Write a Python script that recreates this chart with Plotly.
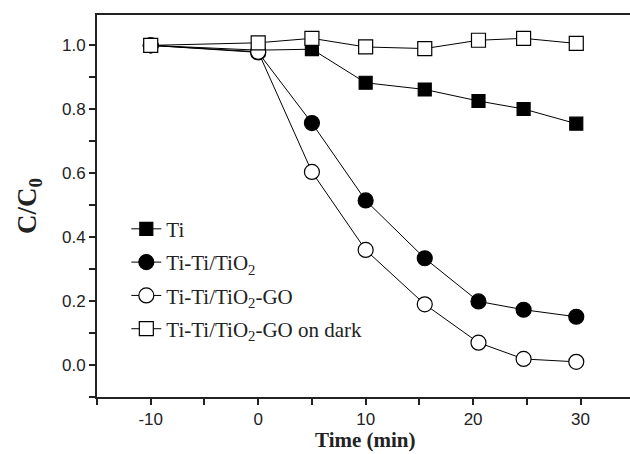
import plotly.graph_objects as go

time_pts = [-10, 0, 5, 10, 15.5, 20.5, 24.7, 29.6]
ti = [1.0, 0.985, 0.988, 0.883, 0.862, 0.826, 0.801, 0.755]
ti_tio2 = [1.0, 0.978, 0.757, 0.515, 0.334, 0.199, 0.173, 0.151]
ti_tio2_go = [1.0, 0.98, 0.604, 0.360, 0.190, 0.070, 0.019, 0.010]
ti_tio2_go_dark = [1.0, 1.008, 1.022, 0.995, 0.990, 1.016, 1.022, 1.006]

names = ["Ti", "Ti-Ti/TiO<sub>2</sub>", "Ti-Ti/TiO<sub>2</sub>-GO", "Ti-Ti/TiO<sub>2</sub>-GO on dark"]
series = [ti, ti_tio2, ti_tio2_go, ti_tio2_go_dark]
symbols = ["square", "circle", "circle-open", "square-open"]
sizes = [13, 15, 15, 14]

x_ticks = [-10, 0, 10, 20, 30]
x_ticktext = ["-10", "0", "10", "20", "30"]
x_minor = [-15, -5, 5, 15, 25]
y_ticks = [0.0, 0.2, 0.4, 0.6, 0.8, 1.0]
y_minor = [-0.1, 0.1, 0.3, 0.5, 0.7, 0.9]

fig = go.Figure()
for i, (name, ys, sym, sz) in enumerate(zip(names, series, symbols, sizes)):
    fill = "black" if "open" not in sym else "white"
    fig.add_trace(go.Scatter(
        x=time_pts, y=ys, name=name, mode="lines+markers", legendgroup=f"g{i}",
        line=dict(color="black", width=1),
        marker=dict(symbol=sym.replace("-open", ""), size=sz, color=fill,
                    line=dict(color="black", width=1.2)),
    ))

fig.update_layout(
    width=630, height=454,
    margin=dict(l=97, r=0, t=15, b=57),
    paper_bgcolor="white", plot_bgcolor="white",
    showlegend=True,
    legend=dict(x=0.055, y=0.493, xanchor="left", yanchor="top",
                font=dict(family="Liberation Serif", size=21, color="#222"),
                bgcolor="rgba(0,0,0,0)", tracegroupgap=3),
    font=dict(family="Liberation Sans", size=17, color="#222"),
)
fig.update_xaxes(
    range=[-15, 34.6], showgrid=False, zeroline=False,
    showline=True, linewidth=2, linecolor="#222", mirror=True,
    ticks="outside", ticklen=6, tickwidth=1.5, tickcolor="#222",
    tickvals=x_ticks, ticktext=x_ticktext,
    minor=dict(tickvals=x_minor, ticks="outside", ticklen=6, tickwidth=1.5,
               tickcolor="#222", showgrid=False),
    tickfont=dict(family="Liberation Sans", size=17, color="#222"),
)
fig.update_yaxes(
    range=[-0.1, 1.095], showgrid=False, zeroline=False,
    showline=True, linewidth=2, linecolor="#222", mirror=False,
    ticks="outside", ticklen=6, tickwidth=1.5, tickcolor="#222",
    tickvals=y_ticks, tickformat=".1f",
    minor=dict(tickvals=y_minor, ticks="outside", ticklen=6, tickwidth=1.5,
               tickcolor="#222", showgrid=False),
    tickfont=dict(family="Liberation Sans", size=17, color="#222"),
)
fig.add_annotation(text="<b>Time (min)</b>", x=10, xref="x", y=0, yref="paper",
                   yshift=-43, showarrow=False, yanchor="middle",
                   font=dict(family="Liberation Serif", size=21, color="#222"))
fig.add_annotation(text="<b>C/C<sub>0</sub></b>", x=0, xref="paper", y=0.5, yref="paper",
                   xshift=-68, textangle=-90, showarrow=False, xanchor="center",
                   font=dict(family="Liberation Serif", size=27, color="#222"))

fig.write_html("out.html")
